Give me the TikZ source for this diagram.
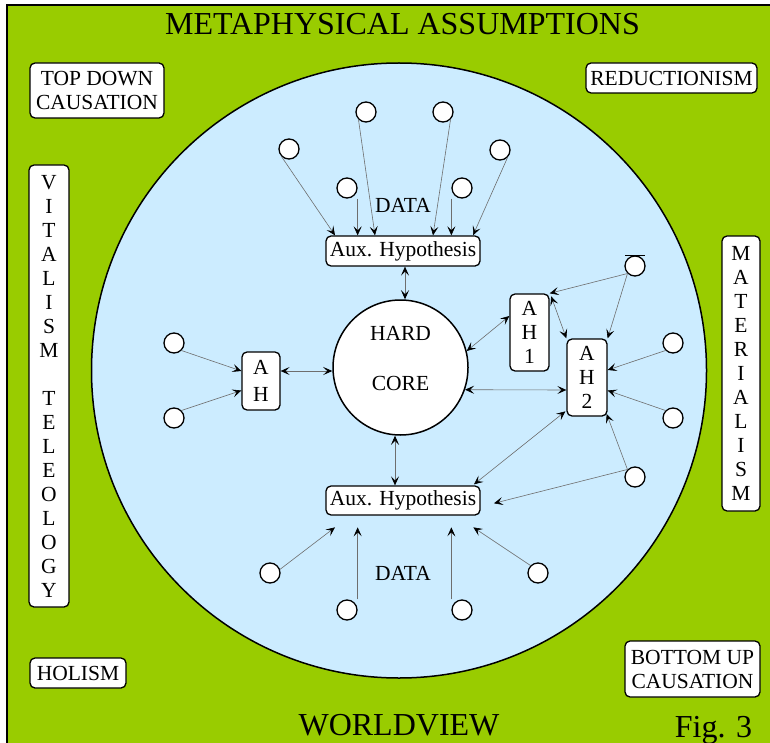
\documentclass[tikz,border=0pt]{standalone}
\usepackage{fontspec}
\setmainfont{Liberation Serif}
\usetikzlibrary{arrows.meta,calc}
\definecolor{bggreen}{RGB}{153,204,0}
\definecolor{skyblue}{RGB}{204,236,255}
\definecolor{linegray}{RGB}{110,110,110}
\newcommand\fsml{\fontsize{21.5}{24}\selectfont}
\newcommand\fahl{\fontsize{21.5}{27}\selectfont}
\newcommand\fbg{\fontsize{32}{36}\selectfont}
\tikzset{
  boxn/.style={draw, line width=1.3pt, fill=white, rounded corners=5pt, inner sep=0pt, align=center, font=\fsml},
  dot/.style={circle, draw, line width=1.3pt, fill=white, minimum size=20pt, inner sep=0pt},
  hd/.tip={Stealth[length=9pt,width=8pt,inset=4pt,color=black]},
  arr/.style={draw=linegray, line width=0.6pt, -hd},
  darr/.style={draw=linegray, line width=0.6pt, hd-hd},
  lbl/.style={font=\fsml, inner sep=0pt},
  big/.style={font=\fbg, inner sep=0pt, anchor=base}
}
\begin{document}
\begin{tikzpicture}[x=1pt,y=-1pt]
\useasboundingbox (0,0) rectangle (770,743);
% frame and worldview circle
\draw[fill=bggreen, line width=2pt] (7,5) rectangle (780,755);
\draw[fill=skyblue, line width=1.5pt] (399,370.5) circle[radius=307.5];

% titles
\node[big] (title) at (402.5,35) {METAPHYSICAL ASSUMPTIONS};
\node[big] (wv) at (399,735) {WORLDVIEW};
\node[big] (fig) at (713.5,737) {Fig. 3};

% outer boxes
\node[boxn, minimum width=134pt, minimum height=55pt] (tdc) at (97,90.5) {TOP DOWN\\CAUSATION};
\node[boxn, minimum width=171pt, minimum height=30pt] (red) at (671.5,78) {REDUCTIONISM};
\node[boxn, minimum width=96pt, minimum height=30pt] (hol) at (78,673) {HOLISM};
\node[boxn, minimum width=135pt, minimum height=56pt] (buc) at (692.5,669) {BOTTOM UP\\CAUSATION};
\node[boxn, minimum width=40pt, minimum height=442pt] (vit) at (49,386)
  {V\\I\\T\\A\\L\\I\\S\\M\\\mbox{}\\T\\E\\L\\E\\O\\L\\O\\G\\Y};
\node[boxn, minimum width=38pt, minimum height=275pt] (mat) at (741,373.5)
  {M\\A\\T\\E\\R\\I\\A\\L\\I\\S\\M};

% inner boxes
\node[boxn, minimum width=154pt, minimum height=30pt] (aux1) at (403,251) {Aux. Hypothesis};
\node[boxn, minimum width=154pt, minimum height=29pt] (aux2) at (403,500.5) {Aux. Hypothesis};
\node[boxn, font=\fahl, minimum width=38pt, minimum height=58pt] (ah) at (261,381) {A\\H};
\node[boxn, minimum width=39pt, minimum height=77pt] (ah1) at (529.5,332.5) {A\\H\\1};
\node[boxn, minimum width=40pt, minimum height=77pt] (ah2) at (587,377.5) {A\\H\\2};
\node[circle, draw, line width=1.5pt, fill=white, minimum size=135pt, inner sep=0pt,
      align=center, font=\fsml, text depth=19pt] (hc) at (400.5,367.5) {HARD\\[26pt]CORE};

% data labels
\node[lbl] (data1) at (403,205) {DATA};
\node[lbl] (data2) at (403,573) {DATA};

% data circles
\node[dot] (c1) at (289,149) {};
\node[dot] (c2) at (366,112) {};
\node[dot] (c3) at (443,112) {};
\node[dot] (c4) at (500,150) {};
\node[dot] (c5) at (347,188) {};
\node[dot] (c6) at (462,188) {};
\node[dot] (d1) at (270,573) {};
\node[dot] (d2) at (347,610) {};
\node[dot] (d3) at (462,610) {};
\node[dot] (d4) at (538,573) {};
\node[dot] (a1) at (174,343) {};
\node[dot] (a2) at (174,418) {};
\node[dot] (cb) at (635,266) {};
\node[dot] (r1) at (673,343) {};
\node[dot] (r2) at (673,418) {};
\node[dot] (r3) at (635,477) {};
\draw[line width=1.6pt] ($(cb.north)+(-10,0)$) -- ($(cb.north)+(10,0)$);

% upper data arrows
\draw[arr] (c1.south west) -- ($(aux1.north)+(-68,0)$);
\draw[arr] (c2.south west) -- ($(aux1.north)+(-28,0)$);
\draw[arr] (c3.south east) -- ($(aux1.north)+(30,0)$);
\draw[arr] (c4.south east) -- ($(aux1.north)+(70,0)$);
\draw[arr] (c5.east |- c5.south) -- (c5.east |- aux1.north);
\draw[arr] (c6.west |- c6.south) -- (c6.west |- aux1.north);

% lower data arrows
\draw[arr] (d1.20) -- ($(aux2.south)+(-68,11.7)$);
\draw[arr] (d2.east |- d2.north) -- ($(d2.east |- aux2.south)+(0,11.7)$);
\draw[arr] (d3.west |- d3.north) -- ($(d3.west |- aux2.south)+(0,11.7)$);
\draw[arr] (d4.135) -- ($(aux2.south)+(70.3,11.7)$);

% hard core links
\coordinate (t1) at ($(aux1.south)+(2,0)$);
\draw[darr] (t1) -- (t1 |- hc.north);
\coordinate (t2) at ($(aux2.north)+(-8,0)$);
\draw[darr] (t2 |- hc.south) -- (t2);
\coordinate (t3) at ($(ah.east)+(0,-10)$);
\draw[darr] (t3) -- (t3 -| hc.west);
\draw[darr] (hc.14) -- ($(ah1.west)+(0,-16.5)$);
\draw[darr] (hc.-19.5) -- ($(ah2.west)+(0,12.5)$);

% AH inputs
\draw[arr] (a1.south east) -- ($(ah.west)+(0,-10)$);
\draw[arr] (a2.north east) -- ($(ah.west)+(0,9.5)$);

% AH1 / AH2 network
\draw[darr] ($(ah1.north east)+(1.5,3)$) -- (ah2.north west);
\draw[arr] (cb.south west) -- (ah1.north east);
\draw[arr] (cb.south west) -- (ah2.north east);
\draw[arr] (r1.south west) -- ($(ah2.east)+(0,-7.5)$);
\draw[arr] (r2.north west) -- ($(ah2.east)+(0,13)$);
\draw[arr] (r3.north west) -- ($(ah2.south east)+(-1,-2.7)$);
\draw[arr] (r3.north west) -- ($(aux2.east)+(13.3,2.8)$);
\draw[darr] ($(aux2.north east)+(-6.7,-1)$) -- ($(ah2.south west)+(-1,-5.3)$);
\end{tikzpicture}
\end{document}
